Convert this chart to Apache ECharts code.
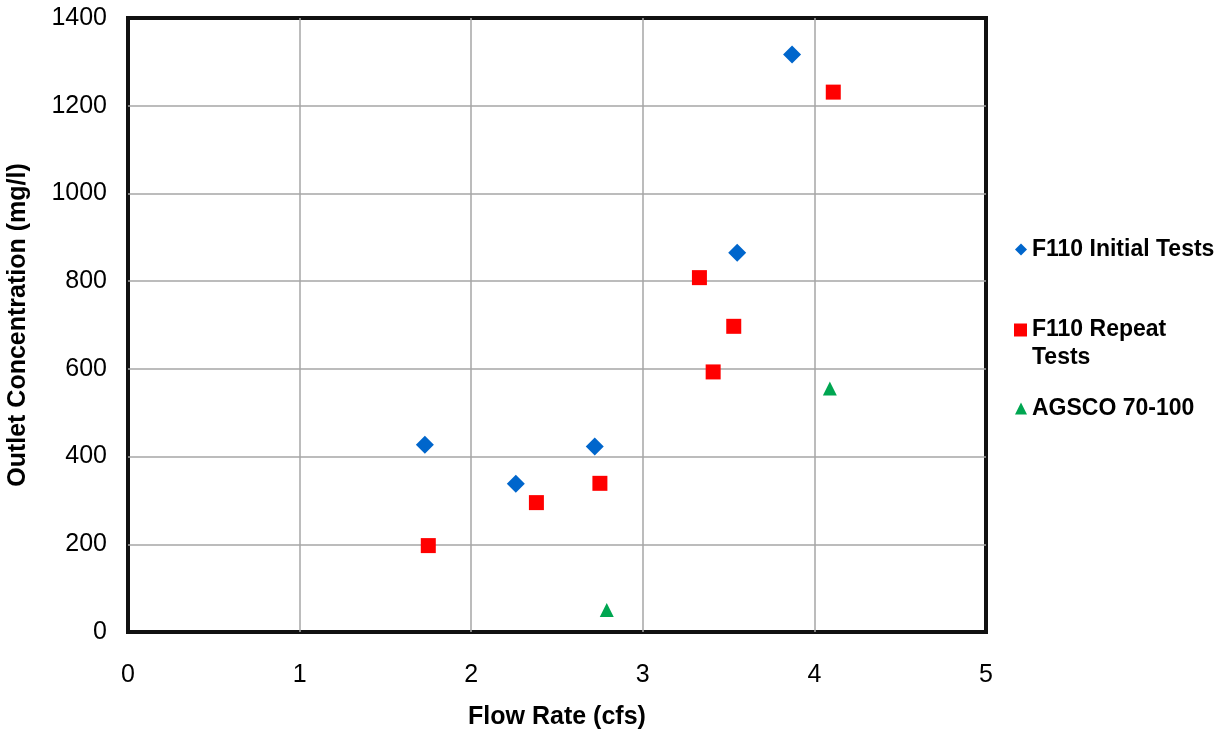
<!DOCTYPE html>
<html>
<head>
<meta charset="utf-8">
<script src="https://cdn.jsdelivr.net/npm/echarts@6/dist/echarts.min.js"></script>
<style>
html,body{margin:0;padding:0;background:#fff;}
#chart{width:1226px;height:730px;}
</style>
</head>
<body>
<div id="chart"></div>
<script>
var xTicks = [0, 1, 2, 3, 4, 5];
var yTicks = [0, 200, 400, 600, 800, 1000, 1200, 1400];

var initialTests = [
  [1.73, 427], [2.26, 338], [2.72, 423], [3.55, 865], [3.87, 1317]
];
var repeatTests = [
  [1.75, 197], [2.38, 295], [2.75, 339], [3.33, 808], [3.53, 697], [3.41, 593], [4.11, 1231]
];
var agscoTests = [
  [2.79, 50], [4.09, 555]
];

var seriesNames = ['F110 Initial Tests', 'F110 Repeat Tests', 'AGSCO 70-100'];
var FONT = '"Liberation Sans", Arial, sans-serif';

var chart = echarts.init(document.getElementById('chart'));
var legendText = {fontFamily: FONT, fontWeight: 'bold', fontSize: 23, color: '#000'};
chart.setOption({
  animation: false,
  backgroundColor: '#fff',
  grid: {left: 128, right: 240, top: 18, bottom: 98, outerBoundsMode: 'none', containLabel: false,
    show: true, borderColor: '#111', borderWidth: 4, backgroundColor: 'transparent'},
  legend: [
    {data: [seriesNames[0]], left: 1015, top: 238, padding: 0, itemWidth: 12, itemHeight: 12, textStyle: legendText},
    {data: [seriesNames[1]], left: 1014, top: 288, padding: 0, itemWidth: 13, itemHeight: 13,
      formatter: function () { return '\nF110 Repeat\nTests'; },
      textStyle: Object.assign({lineHeight: 28}, legendText)},
    {data: [seriesNames[2]], left: 1015, top: 397, padding: 0, itemWidth: 12, itemHeight: 12, textStyle: legendText}
  ],
  xAxis: {
    type: 'value', min: xTicks[0], max: xTicks[xTicks.length - 1], interval: 1,
    name: 'Flow Rate (cfs)', nameLocation: 'middle', nameGap: 73,
    nameTextStyle: {fontFamily: FONT, fontWeight: 'bold', fontSize: 25, color: '#000'},
    axisLine: {show: false}, axisTick: {show: false},
    axisLabel: {fontFamily: FONT, fontSize: 25, color: '#000', margin: 31, formatter: function (v) { return String(v); }},
    splitLine: {show: true, showMinLine: false, showMaxLine: false, lineStyle: {color: '#a6a6a6', width: 1.5}}
  },
  yAxis: {
    type: 'value', min: yTicks[0], max: yTicks[yTicks.length - 1], interval: 200,
    name: 'Outlet Concentration (mg/l)', nameLocation: 'middle', nameGap: 97,
    nameTextStyle: {fontFamily: FONT, fontWeight: 'bold', fontSize: 25, color: '#000'},
    axisLine: {show: false}, axisTick: {show: false},
    axisLabel: {fontFamily: FONT, fontSize: 25, color: '#000', margin: 21, formatter: function (v) { return String(v); }},
    splitLine: {show: true, showMinLine: false, showMaxLine: false, lineStyle: {color: '#a6a6a6', width: 1.5}}
  },
  series: [
    {name: seriesNames[0], type: 'scatter', data: initialTests, symbol: 'diamond', symbolSize: 18,
      itemStyle: {color: '#0066CC', opacity: 1}},
    {name: seriesNames[1], type: 'scatter', data: repeatTests, symbol: 'rect', symbolSize: 15,
      itemStyle: {color: '#FF0000', opacity: 1}},
    {name: seriesNames[2], type: 'scatter', data: agscoTests, symbol: 'triangle', symbolSize: 14,
      itemStyle: {color: '#00A651', opacity: 1}}
  ]
});
</script>
</body>
</html>
